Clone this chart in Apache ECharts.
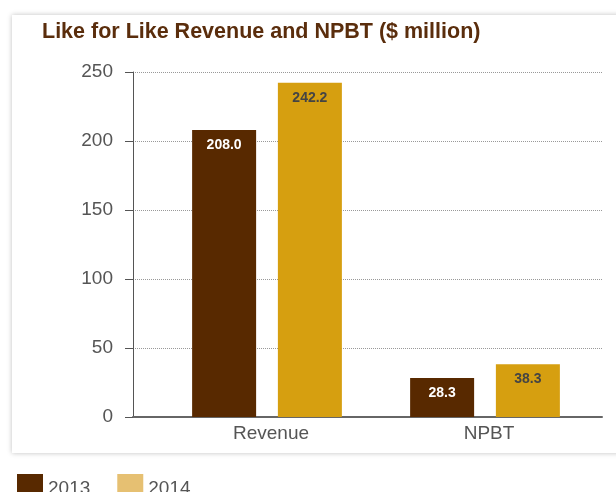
<!DOCTYPE html>
<html>
<head>
<meta charset="utf-8">
<script src="https://cdn.jsdelivr.net/npm/echarts@6/dist/echarts.min.js"></script>
<style>
  html, body { margin: 0; padding: 0; background: #fff; }
  #card {
    position: absolute; left: 12px; top: 15px; width: 620px; height: 438px;
    background: #fff; box-shadow: 0 0 5px rgba(0,0,0,0.25);
  }
  #main { position: absolute; left: 0; top: 0; width: 616px; height: 492px; }
</style>
</head>
<body>
<div id="card"></div>
<div id="main"></div>
<script>
const categories = ['Revenue', 'NPBT']
const years = ['2013', '2014']
const values2013 = [208.0, 28.3]
const values2014 = [242.2, 38.3]

const chart = echarts.init(document.getElementById('main'))

chart.setOption({
  textStyle: { fontFamily: 'Liberation Sans, Arial, sans-serif' },
  title: {
    text: 'Like for Like Revenue and NPBT ($ million)',
    left: 37,
    top: 16,
    textStyle: { fontSize: 21.5, fontWeight: 'bold', color: '#5a2d0c' }
  },
  legend: {
    left: 12,
    top: 469,
    itemWidth: 26,
    itemHeight: 30,
    itemGap: 27,
    icon: 'rect',
    textStyle: { fontSize: 19, color: '#555', padding: [8, 0, 0, 0] },
    data: [
      { name: years[0], itemStyle: { color: '#582900' } },
      { name: years[1], itemStyle: { color: '#e6c072' } }
    ]
  },
  grid: [
    { left: 133, right: 14, top: 72, bottom: 75 },
    { left: 158, right: 22, top: 72, bottom: 75 }
  ],
  xAxis: [
    {
      gridIndex: 0,
      type: 'value',
      min: 0,
      max: 1,
      axisLine: { show: true, lineStyle: { color: '#666', width: 2 } },
      axisTick: { show: false },
      axisLabel: { show: false },
      splitLine: { show: false }
    },
    {
      gridIndex: 1,
      type: 'category',
      data: categories,
      axisLine: { show: false },
      axisTick: { show: false },
      axisLabel: { fontSize: 19, color: '#555', margin: 7, padding: [0, 0, 0, 8] }
    }
  ],
  yAxis: [
    {
      gridIndex: 0,
      type: 'value',
      min: 0,
      max: 250,
      interval: 50,
      axisLine: { show: true, lineStyle: { color: '#555', width: 1 } },
      axisTick: { show: true, length: 8, lineStyle: { color: '#555' } },
      axisLabel: { fontSize: 19, color: '#555', margin: 20 },
      splitLine: { show: true, lineStyle: { type: 'dotted', color: '#999' } }
    },
    {
      gridIndex: 1,
      type: 'value',
      min: 0,
      max: 250,
      show: false
    }
  ],
  series: [
    {
      name: years[0],
      type: 'bar',
      xAxisIndex: 1,
      yAxisIndex: 1,
      barWidth: 64,
      barGap: '34%',
      data: values2013,
      itemStyle: { color: '#582900' },
      label: {
        show: true,
        position: 'insideTop',
        distance: 8,
        formatter: p => p.value.toFixed(1),
        fontSize: 14,
        fontWeight: 'bold',
        color: '#fff'
      }
    },
    {
      name: years[1],
      type: 'bar',
      xAxisIndex: 1,
      yAxisIndex: 1,
      barWidth: 64,
      barGap: '34%',
      data: values2014,
      itemStyle: { color: '#d69f10' },
      label: {
        show: true,
        position: 'insideTop',
        distance: 8,
        formatter: p => p.value.toFixed(1),
        fontSize: 14,
        fontWeight: 'bold',
        color: '#444'
      }
    }
  ]
})
</script>
</body>
</html>
